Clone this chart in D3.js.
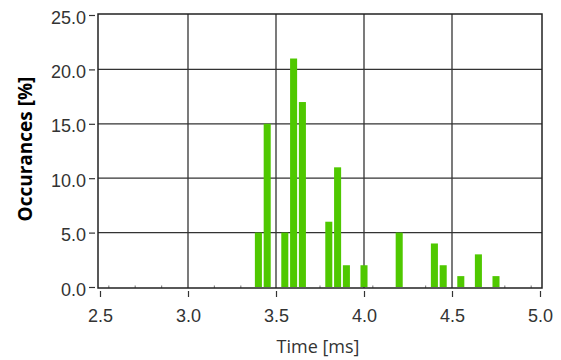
<!DOCTYPE html>
<html>
<head>
<meta charset="utf-8">
<script src="https://cdn.jsdelivr.net/npm/d3@7"></script>
<style>
  body { margin: 0; background: #fff; }
  svg { display: block; font-family: 'Open Sans', 'Noto Sans', sans-serif; }
</style>
</head>
<body>
<svg id="chart" width="561" height="360"></svg>
<script>
// histogram bins (ms) and occurrence (%)
const binTimes = [3.4, 3.45, 3.55, 3.6, 3.65, 3.8, 3.85, 3.9, 4.0, 4.2, 4.4, 4.45, 4.55, 4.65, 4.75];
const occurrences = [5, 15, 5, 21, 17, 6, 11, 2, 2, 5, 4, 2, 1, 3, 1];
const xTicks = [2.5, 3.0, 3.5, 4.0, 4.5, 5.0];
const yTicks = [0, 5, 10, 15, 20, 25];
const minorTicks = [2.55, 2.7, 2.85, 3.15, 3.3, 3.75, 4.05, 4.35, 4.8, 4.95];

const BIN_WIDTH = 0.04;
const frame = { left: 98, right: 542, top: 14, bottom: 288 };

const svg = d3.select('#chart');

const xScale = d3.scaleLinear([2.5, 5.0], [100, 540]);
const yScale = d3.scaleLinear([0, 25], [287, 15]);

/* grid lines */
const gridG = svg.append('g')
  .attr('stroke', '#333')
  .attr('stroke-width', 1.3)
  .attr('fill', 'none');

gridG.selectAll('.grid-x')
  .data(xTicks.slice(1, -1))
  .enter()
  .append('line')
  .attr('x1', (d) => xScale(d))
  .attr('x2', (d) => xScale(d))
  .attr('y1', frame.top)
  .attr('y2', frame.bottom);

gridG.selectAll('.grid-y')
  .data(yTicks.slice(1, -1))
  .enter()
  .append('line')
  .attr('y1', (d) => yScale(d))
  .attr('y2', (d) => yScale(d))
  .attr('x1', frame.left)
  .attr('x2', frame.right);

/* bars */
svg.append('g')
  .selectAll('rect')
  .data(binTimes.map((t, i) => ({ t, v: occurrences[i] })))
  .enter()
  .append('rect')
  .attr('fill', '#4fc800')
  .attr('x', (d) => xScale(d.t - BIN_WIDTH / 2))
  .attr('width', (d) => xScale(d.t + BIN_WIDTH / 2) - xScale(d.t - BIN_WIDTH / 2))
  .attr('y', (d) => yScale(d.v))
  .attr('height', (d) => yScale(0) - yScale(d.v));

/* minor marks on the baseline */
svg.append('g')
  .selectAll('line')
  .data(minorTicks)
  .enter()
  .append('line')
  .attr('stroke', '#888')
  .attr('stroke-width', 1.2)
  .attr('x1', (d) => xScale(d))
  .attr('x2', (d) => xScale(d))
  .attr('y1', frame.bottom - 2.5)
  .attr('y2', frame.bottom);

/* frame */
svg.append('rect')
  .attr('x', frame.left)
  .attr('y', frame.top)
  .attr('width', frame.right - frame.left)
  .attr('height', frame.bottom - frame.top)
  .attr('fill', 'none')
  .attr('stroke', '#222')
  .attr('stroke-width', 1.5);

/* axes */
const leftAxis = d3.axisLeft(yScale)
  .tickValues(yTicks)
  .tickSize(6)
  .tickPadding(3)
  .tickFormat(d3.format('.1f'));

const yAxisG = svg.append('g')
  .attr('transform', 'translate(95, 0)')
  .call(leftAxis);
yAxisG.select('.domain').remove();
yAxisG.selectAll('.tick line').attr('stroke', '#333').attr('stroke-width', 1.2);
yAxisG.selectAll('.tick text')
  .attr('fill', '#333')
  .attr('font-size', 18)
  .attr('font-family', null)
  .attr('dy', '0.45em');

const bottomAxis = d3.axisBottom(xScale)
  .tickValues(xTicks)
  .tickSize(6)
  .tickPadding(12)
  .tickFormat(d3.format('.1f'));

const xAxisG = svg.append('g')
  .attr('transform', 'translate(0, 291)')
  .call(bottomAxis);
xAxisG.select('.domain').remove();
xAxisG.selectAll('.tick line').attr('stroke', '#333').attr('stroke-width', 1.2);
xAxisG.selectAll('.tick text')
  .attr('fill', '#333')
  .attr('font-size', 18)
  .attr('font-family', null);

/* axis titles */
svg.append('text')
  .attr('x', 318)
  .attr('y', 353)
  .attr('text-anchor', 'middle')
  .attr('fill', '#333')
  .attr('font-size', 18)
  .text('Time [ms]');

svg.append('text')
  .attr('transform', 'translate(32, 149) rotate(-90)')
  .attr('text-anchor', 'middle')
  .attr('fill', '#000')
  .attr('font-size', 19)
  .attr('font-weight', 'bold')
  .text('Occurances [%]');
</script>
</body>
</html>
